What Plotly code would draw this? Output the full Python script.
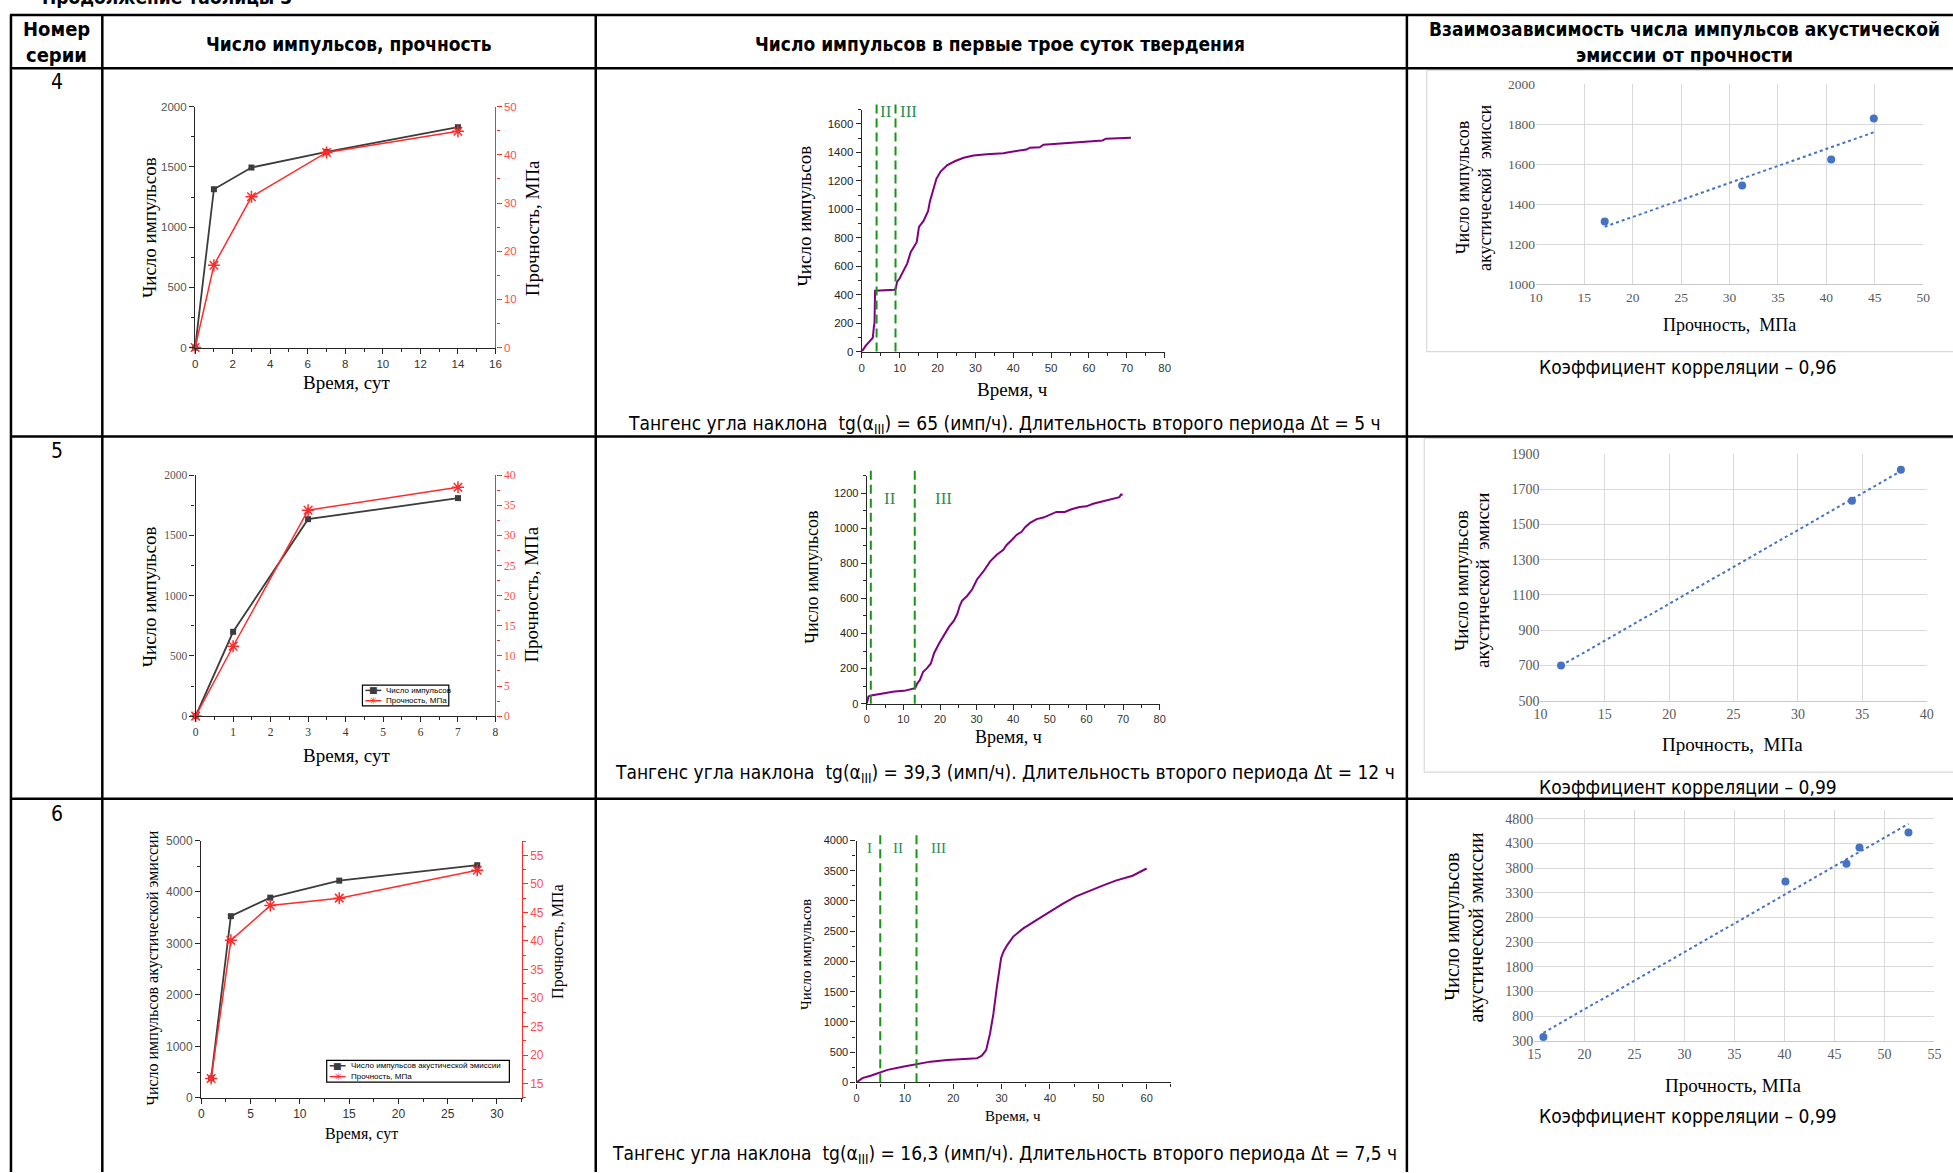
import numpy as np
import plotly.graph_objects as go

W, H = 1953, 1173

SERIF = "'Liberation Serif', 'Times New Roman', serif"
SANS = "'Liberation Sans', Arial, sans-serif"
NARROW = "'Liberation Sans Narrow', 'Arial Narrow', 'DejaVu Sans Condensed', sans-serif"

INK = "#262626"
DARK = "#3c3c3c"
RED = "#ff2a2a"
PURPLE = "#800080"
GREEN = "#169616"
STAGE_TXT = "#2e8b57"
BLUE = "#4472c4"
GRID = "#d9d9d9"

# ---------------- data ----------------
series_ids = ["4", "5", "6"]

# Series 4
s4_days = [0, 1, 3, 7, 14]
s4_pulses = [0, 1315, 1495, 1625, 1830]
s4_strength = [0, 17.1, 31.3, 40.5, 44.9]
s4_hours = [0, 0.5, 1, 2, 2.9, 3.2, 3.35, 3.5, 5, 7, 8.7, 9.0, 9.3, 10, 11.2, 12, 12.9,
            14.5, 15.1, 16.3, 17.5, 18, 19.7, 20.8, 22.6, 24.7, 26.9, 29.5, 33, 37.4,
            39.2, 43.5, 44.4, 47, 48, 51, 54.9, 58, 63.6, 64.5, 68, 71.1]
s4_counts = [0, 25, 40, 70, 97, 178, 200, 428, 430, 432, 435, 445, 490, 515, 583, 620, 698,
             768, 876, 918, 987, 1057, 1214, 1265, 1311, 1339, 1362, 1378, 1387, 1394,
             1403, 1420, 1433, 1436, 1454, 1460, 1468, 1472, 1484, 1496, 1498, 1503]
s4_stage2_start = 3.9
s4_stage2_len = 5
s4_slope = "65"
s4_dt = "5"
s4_corr = "0,96"

# Series 5
s5_days = [0, 1, 3, 7]
s5_pulses = [0, 700, 1635, 1810]
s5_strength = [0, 11.6, 34.2, 38.0]
s5_hours = [0, 0.45, 1.2, 3.9, 5.2, 7.5, 10.2, 12.5, 13.2, 13.8, 14.5, 15.4, 16.4, 17.5,
            18.4, 19.7, 21.1, 22.4, 23.8, 24.7, 25.4, 26, 27.4, 28.8, 30.1, 31.9, 33.7,
            35.5, 37.3, 38.2, 39.6, 40.9, 42.3, 43.2, 44.6, 46.4, 48.2, 50, 51.8, 54.1,
            55.9, 58.1, 60, 61.8, 64.5, 67.2, 69, 69.4, 69.9]
s5_counts = [0, 41, 47, 58, 62, 69, 73, 83, 88, 116, 135, 182, 201, 229, 289, 342, 389,
             436, 473, 511, 558, 586, 614, 652, 708, 755, 811, 849, 877, 905, 933, 962,
             980, 1005, 1031, 1052, 1061, 1076, 1093, 1093, 1108, 1121, 1125, 1140, 1155,
             1168, 1177, 1192, 1191]
s5_stage2_start = 1.1
s5_stage2_len = 12
s5_slope = "39,3"
s5_dt = "12"
s5_corr = "0,99"

# Series 6
s6_days = [1, 3, 7, 14, 28]
s6_pulses = [380, 3530, 3890, 4220, 4520]
s6_strength = [15.9, 40.1, 46.2, 47.5, 52.4]
s6_hours = [0, 1.2, 2.9, 4.8, 6.4, 9.8, 12.6, 15.3, 18.7, 22.1, 24.9, 25.9, 26.8, 27.6,
            28.3, 29, 29.9, 30.4, 31.2, 32.4, 34.5, 37.2, 39.9, 42.7, 45.4, 48.2, 50.9,
            53.6, 57.1, 60]
s6_counts = [0, 71, 109, 163, 207, 261, 305, 343, 370, 386, 397, 441, 533, 805, 1132,
             1567, 2057, 2166, 2275, 2411, 2547, 2683, 2819, 2955, 3075, 3173, 3254, 3336,
             3418, 3537]
s6_stage2_start = 4.9
s6_stage2_len = 7.5
s6_slope = "16,3"
s6_dt = "7,5"
s6_corr = "0,99"


# ---------------- helpers ----------------
def xd(a, b):
    return [a / W, b / W]


def yd(top, bottom):
    return [1 - bottom / H, 1 - top / H]


def X(x):
    return x / W


def Y(y):
    return 1 - y / H


def origin_x(dom, rng, dtick, minor, anchor, size, family):
    return dict(domain=dom, range=rng, anchor=anchor, dtick=dtick, tick0=0,
                showline=True, linecolor=INK, linewidth=1.4,
                ticks="outside", ticklen=5, tickwidth=1.2, tickcolor=INK,
                minor=dict(dtick=minor, tick0=0, ticks="outside", ticklen=3,
                           tickwidth=1, tickcolor=INK, showgrid=False),
                showgrid=False, zeroline=False,
                tickfont=dict(family=family, size=size, color="#333333"))


def origin_top(over, anchor, rng, dtick, minor):
    # frame line along the top edge, ticks pointing into the plot
    return dict(overlaying=over, anchor=anchor, side="top", range=rng, dtick=dtick, tick0=0,
                showline=True, linecolor=INK, linewidth=1.4,
                ticks="inside", ticklen=5, tickwidth=1.2, tickcolor=INK,
                minor=dict(dtick=minor, tick0=0, ticks="inside", ticklen=3,
                           tickwidth=1, tickcolor=INK, showgrid=False),
                showticklabels=False, showgrid=False, zeroline=False)


def origin_y(dom, rng, dtick, minor, anchor, size, family, color="#555555", tick0=0):
    return dict(domain=dom, range=rng, anchor=anchor, dtick=dtick, tick0=tick0,
                showline=True, linecolor=INK, linewidth=1.4,
                ticks="outside", ticklen=5, tickwidth=1.2, tickcolor=INK,
                minor=dict(dtick=minor, tick0=tick0, ticks="outside", ticklen=3,
                           tickwidth=1, tickcolor=INK, showgrid=False),
                showgrid=False, zeroline=False,
                tickfont=dict(family=family, size=size, color=color))


def origin_y2(over, anchor, rng, dtick, minor, size, family):
    return dict(overlaying=over, anchor=anchor, side="right", range=rng, dtick=dtick, tick0=0,
                showline=True, linecolor=RED, linewidth=1.4,
                ticks="outside", ticklen=5, tickwidth=1.2, tickcolor=RED,
                minor=dict(dtick=minor, tick0=0, ticks="outside", ticklen=3,
                           tickwidth=1, tickcolor=RED, showgrid=False),
                showgrid=False, zeroline=False,
                tickfont=dict(family=family, size=size, color="#ff4d4d"))


def excel_x(dom, rng, dtick, anchor, size):
    return dict(domain=dom, range=rng, anchor=anchor, dtick=dtick, tick0=0,
                showgrid=True, gridcolor=GRID, gridwidth=1.3,
                showline=True, linecolor="#c8c8c8", linewidth=1.3,
                ticks="", zeroline=False,
                tickfont=dict(family=SERIF, size=size, color="#595959"))


def excel_y(dom, rng, dtick, tick0, anchor, size):
    return dict(domain=dom, range=rng, anchor=anchor, dtick=dtick, tick0=tick0,
                showgrid=True, gridcolor=GRID, gridwidth=1.3,
                showline=False, ticks="", zeroline=False,
                tickfont=dict(family=SERIF, size=size, color="#595959"))


annotations = []
shapes = []
traces = []


def note(x, y, text, size, family=SERIF, color="black", angle=0, xanchor="center",
         xref="paper", yref="paper"):
    annotations.append(dict(
        x=X(x) if xref == "paper" else x, y=Y(y) if yref == "paper" else y,
        xref=xref, yref=yref, text=text, showarrow=False, textangle=angle,
        xanchor=xanchor, yanchor="middle",
        font=dict(family=family, size=size, color=color)))


def pulses_and_strength(xa, ya, ya2, days, pulses, strength):
    traces.append(go.Scatter(
        x=days, y=pulses, xaxis=xa, yaxis=ya, mode="lines+markers",
        line=dict(color=DARK, width=1.8),
        marker=dict(symbol="square", size=6, color=DARK), cliponaxis=False))
    traces.append(go.Scatter(
        x=days, y=strength, xaxis=xa, yaxis=ya2, mode="lines+markers",
        line=dict(color=RED, width=1.5),
        marker=dict(symbol="asterisk-open", size=10, line=dict(color=RED, width=1.5)),
        cliponaxis=False))


def first_days(xa, ya, hours, counts, start, length, top_px, bottom_px):
    traces.append(go.Scatter(x=hours, y=counts, xaxis=xa, yaxis=ya, mode="lines",
                             line=dict(color=PURPLE, width=2)))
    for b in (start, start + length):
        shapes.append(dict(type="line", xref=xa, yref="paper", x0=b, x1=b,
                           y0=Y(bottom_px), y1=Y(top_px),
                           line=dict(color=GREEN, width=2, dash="9px,5px")))


def correlation(xa, ya, strength, pulses):
    xs = np.array(strength, dtype=float)
    ys = np.array(pulses, dtype=float)
    k, b = np.polyfit(xs, ys, 1)
    xl = np.array([xs.min(), xs.max()])
    traces.append(go.Scatter(x=xl, y=k * xl + b, xaxis=xa, yaxis=ya, mode="lines",
                             line=dict(color=BLUE, width=2, dash="dot")))
    traces.append(go.Scatter(x=strength, y=pulses, xaxis=xa, yaxis=ya, mode="markers",
                             marker=dict(color=BLUE, size=8), cliponaxis=False))


def legend_box(x0, y0, x1, y1, labels):
    shapes.append(dict(type="rect", xref="paper", yref="paper", x0=X(x0), x1=X(x1),
                       y0=Y(y1), y1=Y(y0), line=dict(color="black", width=1.2),
                       fillcolor="white", layer="above"))
    rh = (y1 - y0) / 2
    styles = [(DARK, "■", 9), (RED, "✳", 10)]
    for i, lab in enumerate(labels):
        yy = y0 + rh * (i + 0.5)
        color, sym, ssz = styles[i]
        shapes.append(dict(type="line", xref="paper", yref="paper", x0=X(x0 + 3),
                           x1=X(x0 + 19), y0=Y(yy), y1=Y(yy),
                           line=dict(color=color, width=1.5), layer="above"))
        note(x0 + 11, yy, sym, ssz, family="'DejaVu Sans', sans-serif", color=color)
        note(x0 + 22, yy, lab, 8, family=SANS, xanchor="left")


layout_axes = {}

# ---------- row 4 ----------
layout_axes["xaxis"] = origin_x(xd(189.5, 492), [0, 16], 2, 1, "y", 11.5, SANS)
layout_axes["xaxis10"] = origin_top("x", "y", [0, 16], 2, 1)
layout_axes["yaxis"] = origin_y(yd(101, 345), [0, 2000], 500, 250, "x", 11.5, SANS)
layout_axes["yaxis2"] = origin_y2("y", "x", [0, 50], 10, 5, 11.5, SANS)
pulses_and_strength("x", "y", "y2", s4_days, s4_pulses, s4_strength)
note(143, 223, "Число импульсов", 19, angle=-90)
note(529, 224, "Прочность, МПа", 19, angle=-90)
note(342, 380, "Время, сут", 19)

layout_axes["xaxis2"] = origin_x(xd(861, 1166), [0, 80], 10, 5, "y3", 11.5, SANS)
layout_axes["yaxis3"] = origin_y(yd(104, 349), [0, 1700], 200, 100, "x2", 11.5, SANS, "#222222")
first_days("x2", "y3", s4_hours, s4_counts, s4_stage2_start, s4_stage2_len, 96, 349)
note(885.5, 106, "II", 17, color=STAGE_TXT)
note(908.5, 106, "III", 17, color=STAGE_TXT)
note(803, 212, "Число импульсов", 19, angle=-90)
note(1013, 387, "Время, ч", 19)

layout_axes["xaxis3"] = excel_x(xd(1540, 1930), [10, 50], 5, "y4", 13.5)
layout_axes["yaxis4"] = excel_y(yd(78.5, 281), [1000, 2000], 200, 1000, "x3", 13.5)
correlation("x3", "y4", s4_strength[1:], s4_pulses[1:])
note(1466, 183, "Число импульсов", 18, angle=-90)
note(1488, 183, "акустической  эмисси", 18, angle=-90)
note(1735, 322, "Прочность,\u00a0 МПа", 18)
shapes.append(dict(type="rect", xref="paper", yref="paper", x0=X(1430), x1=X(1970),
                   y0=Y(349), y1=Y(64), line=dict(color="#d9d9d9", width=1.2), layer="below"))

# ---------- row 5 ----------
layout_axes["xaxis4"] = origin_x(xd(190, 492), [0, 8], 1, 0.5, "y5", 11.5, SERIF)
layout_axes["xaxis11"] = origin_top("x4", "y5", [0, 8], 1, 0.5)
layout_axes["yaxis5"] = origin_y(yd(474.3, 718.3), [0, 2000], 500, 250, "x4", 11.5, SERIF)
layout_axes["yaxis6"] = origin_y2("y5", "x4", [0, 40], 5, 2.5, 11.5, SERIF)
pulses_and_strength("x4", "y5", "y6", s5_days, s5_pulses, s5_strength)
legend_box(358, 687, 445, 708, ["Число импульсов", "Прочность, МПа"])
note(143, 597, "Число импульсов", 19, angle=-90)
note(528, 595, "Прочность, МПа", 19, angle=-90)
note(342, 758, "Время, сут", 19)

layout_axes["xaxis5"] = origin_x(xd(866, 1161), [0, 80], 10, 5, "y7", 11, SANS)
layout_axes["yaxis7"] = origin_y(yd(474.7, 705.7), [0, 1300], 200, 100, "x5", 11, SANS, "#222222")
first_days("x5", "y7", s5_hours, s5_counts, s5_stage2_start, s5_stage2_len, 469, 705.7)
note(889, 498, "II", 17, color=STAGE_TXT)
note(943, 498, "III", 17, color=STAGE_TXT)
note(810, 578, "Число импульсов", 18, angle=-90)
note(1009, 739, "Время, ч", 18)

layout_axes["xaxis6"] = excel_x(xd(1544.5, 1933.5), [10, 40], 5, "y8", 14)
layout_axes["yaxis8"] = excel_y(yd(452.7, 702.7), [500, 1900], 200, 500, "x6", 14)
correlation("x6", "y8", s5_strength[1:], s5_pulses[1:])
note(1465, 581, "Число импульсов", 19, angle=-90)
note(1486, 581, "акустической  эмисси", 19, angle=-90)
note(1738, 747, "Прочность,\u00a0 МПа", 19)
shapes.append(dict(type="rect", xref="paper", yref="paper", x0=X(1427.5), x1=X(1970),
                   y0=Y(775), y1=Y(437), line=dict(color="#d9d9d9", width=1.2), layer="below"))

# ---------- row 6 ----------
layout_axes["xaxis7"] = origin_x(xd(195.7, 518.3), [0, 32.5], 5, 2.5, "y9", 12, SANS)
layout_axes["xaxis12"] = origin_top("x7", "y9", [0, 32.5], 5, 2.5)
layout_axes["yaxis9"] = origin_y(yd(844.3, 1105), [0, 5000], 1000, 500, "x7", 12, SANS)
layout_axes["yaxis10"] = origin_y2("y9", "x7", [12.5, 57.6], 5, 2.5, 12, SANS)
pulses_and_strength("x7", "y9", "y10", s6_days, s6_pulses, s6_strength)
legend_box(322, 1067, 506, 1089, ["Число импульсов акустической эмиссии", "Прочность, МПа"])
note(147, 973, "Число импульсов акустической эмиссии", 16, angle=-90)
note(555, 947, "Прочность, МПа", 16, angle=-90)
note(357, 1142, "Время, сут", 16)

layout_axes["xaxis8"] = origin_x(xd(855.7, 1172.7), [0, 65.1], 10, 5, "y11", 11, SANS)
layout_axes["yaxis11"] = origin_y(yd(844.3, 1089.3), [0, 4000], 500, 250, "x8", 11, SANS, "#222222")
first_days("x8", "y11", s6_hours, s6_counts, s6_stage2_start, s6_stage2_len, 836, 1089.3)
note(869, 852, "I", 15, color=STAGE_TXT)
note(897.5, 852, "II", 15, color=STAGE_TXT)
note(938.5, 852, "III", 15, color=STAGE_TXT)
note(804, 960, "Число импульсов", 15, angle=-90)
note(1013, 1123, "Время, ч", 15)

layout_axes["xaxis9"] = excel_x(xd(1538.4, 1941.4), [15, 55], 5, "y12", 14)
layout_axes["yaxis12"] = excel_y(yd(813.3, 1047.3), [300, 4980], 500, 300, "x9", 14)
correlation("x9", "y12", s6_strength, s6_pulses)
note(1456, 932, "Число импульсов", 20, angle=-90)
note(1480, 932, "акустической эмиссии", 20, angle=-90)
note(1738, 1092, "Прочность, МПа", 19)

# ---------- table frame ----------
LW = 2.5
for yy in (8, 62, 435, 802):
    shapes.append(dict(type="line", xref="paper", yref="paper", x0=X(3), x1=X(1960),
                       y0=Y(yy), y1=Y(yy), line=dict(color="black", width=LW)))
for xx in (4, 96, 593, 1410):
    shapes.append(dict(type="line", xref="paper", yref="paper", x0=X(xx), x1=X(xx),
                       y0=Y(8), y1=Y(1180), line=dict(color="black", width=LW)))

note(33, -10, "<b>Продолжение таблицы 3</b>", 19, family=NARROW, xanchor="left")
note(50, 22, "<b>Номер</b>", 20, family=NARROW)
note(50, 49, "<b>серии</b>", 20, family=NARROW)
note(344, 37, "<b>Число импульсов, прочность</b>", 19, family=NARROW)
note(1000, 37, "<b>Число импульсов в первые трое суток твердения</b>", 19, family=NARROW)
note(1690, 22, "<b>Взаимозависимость числа импульсов акустической</b>", 19, family=NARROW)
note(1690, 49, "<b>эмиссии от прочности</b>", 19, family=NARROW)

for sid, yy in zip(series_ids, (76, 450, 817)):
    note(50, yy, sid, 21, family=NARROW)

for slope, dt, yy in ((s4_slope, s4_dt, 423), (s5_slope, s5_dt, 776), (s6_slope, s6_dt, 1162)):
    note(1005, yy,
         "Тангенс угла наклона\u00a0 tg(α<sub>III</sub>) = " + slope +
         " (имп/ч). Длительность второго периода Δt = " + dt + " ч",
         19, family=NARROW)

for corr, yy in ((s4_corr, 365), (s5_corr, 790), (s6_corr, 1123)):
    note(1693, yy, "Коэффициент корреляции – " + corr, 19, family=NARROW)

fig = go.Figure(data=traces)
fig.update_layout(
    width=W, height=H, margin=dict(l=0, r=0, t=0, b=0),
    paper_bgcolor="white", plot_bgcolor="white", showlegend=False,
    annotations=annotations, shapes=shapes, **layout_axes)
fig.write_html("out.html")
